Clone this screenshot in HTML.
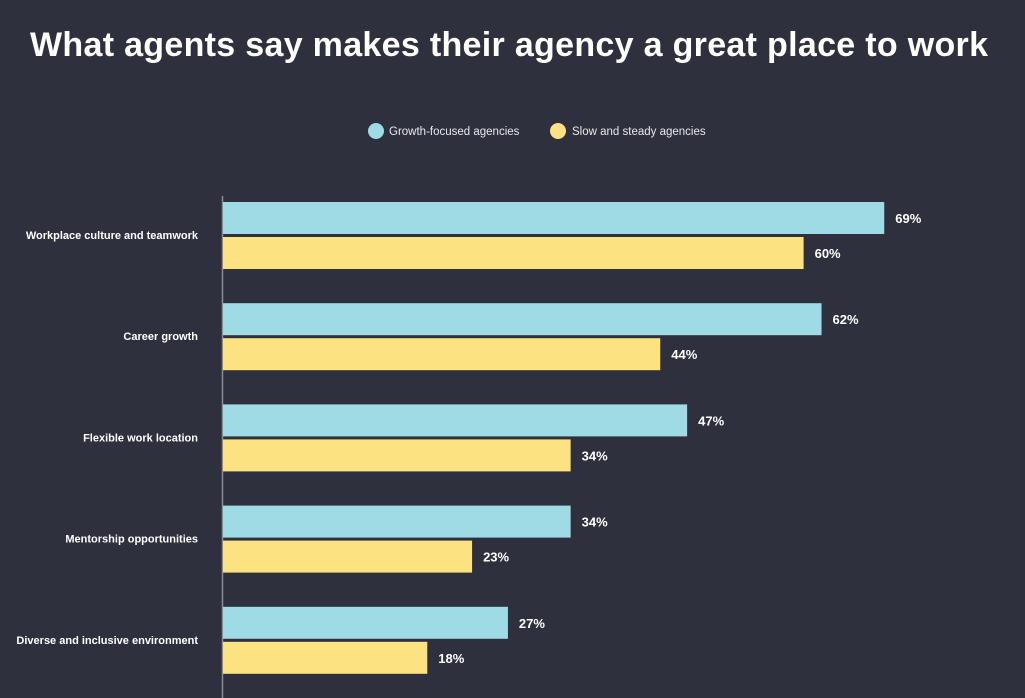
<!DOCTYPE html>
<html><head><meta charset="utf-8"><style>
html,body{margin:0;padding:0;background:#2f303d;width:1025px;height:698px;overflow:hidden;font-family:"Liberation Sans",sans-serif;}
</style></head><body>
<svg id="chart" width="1025" height="698" xmlns="http://www.w3.org/2000/svg">
<rect width="1025" height="698" fill="#2f303d"/>
<text x="509" y="56" text-anchor="middle" fill="#ffffff" font-size="34" font-weight="bold" textLength="958">What agents say makes their agency a great place to work</text>
<g>
<circle cx="376" cy="131" r="8" fill="#9fdbe4"/>
<text x="389" y="135" fill="#e8e8ec" font-size="11.5">Growth-focused agencies</text>
<circle cx="558" cy="131" r="8" fill="#fde282"/>
<text x="572" y="135" fill="#e8e8ec" font-size="11.5">Slow and steady agencies</text>
</g>
<line x1="222.5" y1="196" x2="222.5" y2="698" stroke="#8a8b95" stroke-width="1.5"/>
<g id="bars"></g>
</svg>
<script>
const categories = ["Workplace culture and teamwork","Career growth","Flexible work location","Mentorship opportunities","Diverse and inclusive environment"];
const growthValues = [69,62,47,34,27];
const steadyValues = [60,44,34,23,18];
const svgNS = "http://www.w3.org/2000/svg";
const g = document.getElementById('bars');
function xScale(v){ return 266 + v * 8.96; }
function yGroup(i){ return 202 + i * 101.2; }
function mk(tag, attrs){ const e=document.createElementNS(svgNS,tag); for(const k in attrs) e.setAttribute(k,attrs[k]); return e; }
categories.forEach((c,i)=>{
  const y0 = yGroup(i);
  const lab = mk('text',{x:198,y:y0+37,'text-anchor':'end',fill:'#ffffff','font-size':11,'font-weight':'bold'});
  lab.textContent = c;
  
  
  g.appendChild(lab);
  [[growthValues[i],'#9fdbe4',0,'bar-growth'],[steadyValues[i],'#fde282',35,'bar-steady']].forEach(([v,col,off,nm])=>{
    const r = mk('rect',{x:223,y:y0+off,width:xScale(v)-223,height:32,fill:col});
    
    
    g.appendChild(r);
    const t = mk('text',{x:xScale(v)+11,y:y0+off+21,fill:'#ffffff','font-size':13,'font-weight':'bold'});
    t.textContent = v + '%';
    
    
    g.appendChild(t);
  });
});
</script>
</body></html>
